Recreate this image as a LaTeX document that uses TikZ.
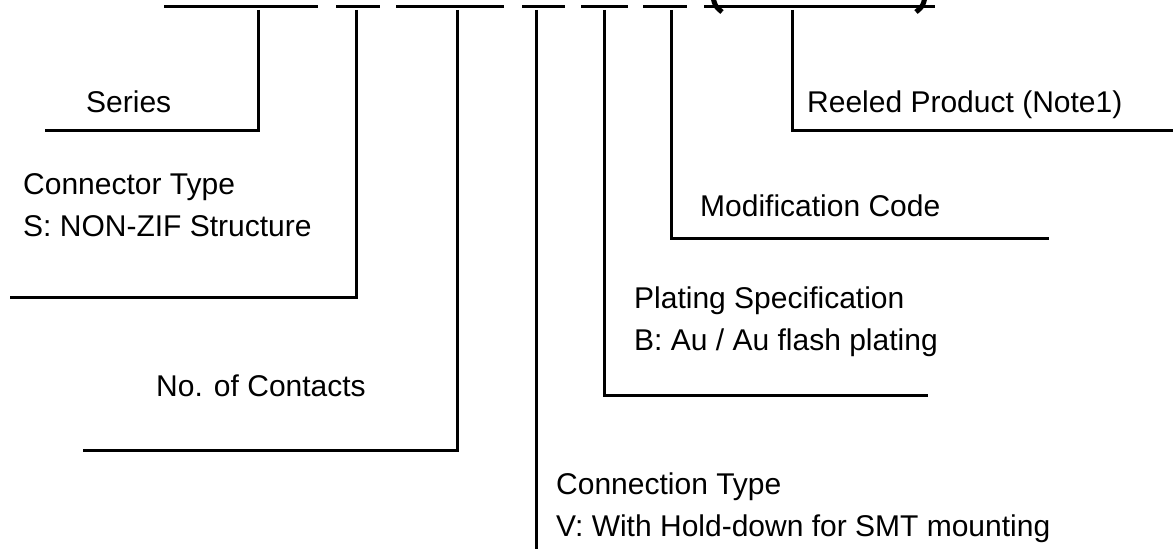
\documentclass[tikz,border=0pt]{standalone}
\usepackage{fontspec}
\setmainfont{Liberation Sans}
\begin{document}
\begin{tikzpicture}[x=1pt,y=-1pt,
  bar/.style={line width=3.6pt},
  lead/.style={line width=3pt},
  paren/.style={line width=5pt},
  lbl/.style={anchor=base west,inner sep=0pt,font=\fontsize{30}{42}\selectfont,align=left}]
\useasboundingbox (0,0) rectangle (1173,551);
% code bars
\draw[bar] (164,6.5) -- (318,6.5);
\draw[bar] (336,6.5) -- (380,6.5);
\draw[bar] (396,6.5) -- (504,6.5);
\draw[bar] (522,6.5) -- (565,6.5);
\draw[bar] (581,6.5) -- (628,6.5);
\draw[bar] (643,6.5) -- (687,6.5);
\draw[bar] (704,6.5) -- (935,6.5);
\draw[paren] (713,-3) .. controls (715,6) .. (722,12);
\draw[paren] (925,-3) .. controls (923,6) .. (916,12);
% labels (anchor = baseline of the last line)
\node[lbl] (ser) at (86,112) {Series};
\node[lbl] (ctp) at (23,236) {Connector Type\\S: NON-ZIF Structure};
\node[lbl] (noc) at (156,396) {No. of Contacts};
\node[lbl] (cnt) at (556,536) {Connection Type\\V: With Hold-down for SMT mounting};
\node[lbl] (pls) at (634,350) {Plating Specification\\B: Au / Au flash plating};
\node[lbl] (mod) at (700,216) {Modification Code};
\node[lbl] (ree) at (807,112) {Reeled Product (Note1)};
% leader coordinates
\coordinate (t1) at (258,10); \coordinate (c1) at (258,130); \coordinate (e1) at (45,130);
\coordinate (t2) at (356,10); \coordinate (c2) at (356,297); \coordinate (e2) at (10,297);
\coordinate (t3) at (457,10); \coordinate (c3) at (457,450); \coordinate (e3) at (83,450);
\coordinate (t4) at (536,10); \coordinate (c4) at (536,549);
\coordinate (t5) at (604,10); \coordinate (c5) at (604,395); \coordinate (e5) at (928,395);
\coordinate (t6) at (671,10); \coordinate (c6) at (671,238); \coordinate (e6) at (1049,238);
\coordinate (t7) at (792,10); \coordinate (c7) at (792,130); \coordinate (e7) at (1173,130);
\draw[lead] (t1) -- (c1) -- (e1);
\draw[lead] (t2) -- (c2) -- (e2);
\draw[lead] (t3) -- (c3) -- (e3);
\draw[lead] (t4) -- (c4);
\draw[lead] (t5) -- (c5) -- (e5);
\draw[lead] (t6) -- (c6) -- (e6);
\draw[lead] (t7) -- (c7) -- (e7);
\end{tikzpicture}
\end{document}
